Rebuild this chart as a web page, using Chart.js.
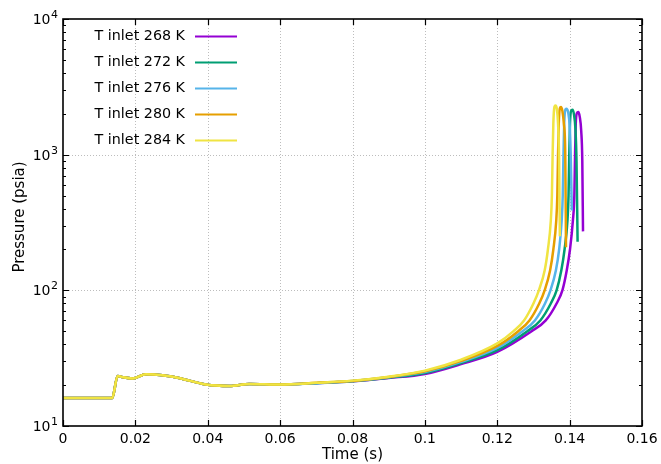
<!DOCTYPE html>
<html>
<head>
<meta charset="utf-8">
<script src="https://cdn.jsdelivr.net/npm/chart.js@4/dist/chart.umd.min.js"></script>
<style>
  html, body { margin: 0; padding: 0; background: #fff; }
  #wrap { width: 661px; height: 464px; }
</style>
</head>
<body>
<div id="wrap"><canvas id="c" width="661" height="464"></canvas></div>
<script>
// Inlet temperature cases
const seriesLabels = ['T inlet 268 K', 'T inlet 272 K', 'T inlet 276 K', 'T inlet 280 K', 'T inlet 284 K'];

// Time (s) and pressure (psia) for each case
const time268 = [0, 0.0136, 0.0151, 0.0165, 0.0192, 0.0229, 0.0275, 0.032, 0.0395, 0.046, 0.0515, 0.06, 0.07, 0.08,
  0.09, 0.1, 0.11, 0.12, 0.1295, 0.1334, 0.1364, 0.138, 0.1392, 0.1401, 0.1409, 0.1413, 0.1415, 0.1417, 0.142,
  0.1424, 0.1428, 0.1432, 0.1435, 0.1437];
const p268 = [16.1, 16.1, 23.4, 22.9, 22.4, 24.1, 23.7, 22.6, 20.2, 19.7, 20.4, 20.2, 20.7, 21.4,
  22.6, 24.2, 28.6, 35.2, 50, 60, 80, 100, 140, 200, 326, 500, 1000, 1700, 2020,
  2060, 1900, 1500, 900, 272];

const time272 = [0, 0.0136, 0.0151, 0.0165, 0.0192, 0.0229, 0.0275, 0.032, 0.0395, 0.046, 0.0515, 0.06, 0.07, 0.08,
  0.09, 0.1, 0.11, 0.12, 0.1283, 0.1319, 0.1348, 0.1364, 0.1377, 0.1386, 0.1394, 0.1397, 0.1399, 0.1401, 0.1404,
  0.1408, 0.1412, 0.1416, 0.1419, 0.1422];
const p272 = [16.1, 16.1, 23.4, 22.9, 22.4, 24.1, 23.7, 22.6, 20.2, 19.7, 20.4, 20.2, 20.7, 21.4,
  22.7, 24.6, 29.1, 36.2, 50, 60, 80, 100, 140, 200, 326, 500, 1000, 1700, 2100,
  2140, 1980, 1550, 900, 228];

const time276 = [0, 0.0136, 0.0151, 0.0165, 0.0192, 0.0229, 0.0275, 0.032, 0.0395, 0.046, 0.0515, 0.06, 0.07, 0.08,
  0.09, 0.1, 0.11, 0.12, 0.127, 0.1304, 0.1332, 0.1347, 0.1362, 0.1371, 0.1378, 0.1381, 0.1383, 0.1385, 0.1388,
  0.1391, 0.1396, 0.14, 0.1403, 0.1406];
const p276 = [16.1, 16.1, 23.4, 22.9, 22.4, 24.1, 23.7, 22.6, 20.2, 19.7, 20.4, 20.2, 20.7, 21.5,
  22.9, 25.0, 29.7, 37.6, 50, 60, 80, 100, 140, 200, 326, 500, 1000, 1700, 2140,
  2180, 2050, 1650, 1000, 388];

const time280 = [0, 0.0136, 0.0151, 0.0165, 0.0192, 0.0229, 0.0275, 0.032, 0.0395, 0.046, 0.0515, 0.06, 0.07, 0.08,
  0.09, 0.1, 0.11, 0.12, 0.1258, 0.1289, 0.1316, 0.1331, 0.1346, 0.1355, 0.1363, 0.1366, 0.1368, 0.137, 0.1373,
  0.1376, 0.138, 0.1384, 0.1388, 0.139];
const p280 = [16.1, 16.1, 23.4, 22.9, 22.4, 24.1, 23.7, 22.6, 20.2, 19.7, 20.4, 20.2, 20.8, 21.5,
  23.0, 25.3, 30.2, 38.9, 50, 60, 80, 100, 140, 200, 326, 500, 1000, 1700, 2200,
  2250, 2100, 1700, 1000, 208];

const time284 = [0, 0.0136, 0.0151, 0.0165, 0.0192, 0.0229, 0.0275, 0.032, 0.0395, 0.046, 0.0515, 0.06, 0.07, 0.08,
  0.09, 0.1, 0.11, 0.12, 0.1245, 0.1274, 0.13, 0.1315, 0.1331, 0.134, 0.1348, 0.1351, 0.1353, 0.1355, 0.1358,
  0.1361, 0.1365, 0.1368, 0.1371, 0.1373];
const p284 = [16.1, 16.1, 23.4, 22.9, 22.4, 24.1, 23.7, 22.6, 20.2, 19.7, 20.4, 20.2, 20.8, 21.6,
  23.1, 25.6, 30.8, 40.6, 50, 60, 80, 100, 140, 200, 326, 500, 1000, 1700, 2250,
  2300, 2150, 1700, 900, 250];

// Axis ticks
const xTicks = [0, 0.02, 0.04, 0.06, 0.08, 0.1, 0.12, 0.14, 0.16];
const xTickLabels = ['0', '0.02', '0.04', '0.06', '0.08', '0.1', '0.12', '0.14', '0.16'];
const yTicks = [10, 100, 1000, 10000];
const yTickExponents = ['1', '2', '3', '4'];

const lineColors = ['#9400d3', '#009e73', '#56b4e9', '#e69f00', '#f0e442'];

const seriesTimes = [time268, time272, time276, time280, time284];
const seriesPressures = [p268, p272, p276, p280, p284];

const FONT = '"DejaVu Sans", "Liberation Sans", sans-serif';

// Frame, inward ticks, dotted grid, log labels, axis titles and key
const framePlugin = {
  id: 'frame',
  beforeDatasetsDraw(chart) {
    const { ctx, chartArea: a, scales: { x, y } } = chart;
    ctx.save();
    ctx.strokeStyle = '#bdbdbd';
    ctx.lineWidth = 1;
    ctx.setLineDash([1, 2]);
    xTicks.forEach(v => {
      if (v <= x.min || v >= x.max) return;
      const px = Math.round(x.getPixelForValue(v)) + 0.5;
      ctx.beginPath(); ctx.moveTo(px, a.top); ctx.lineTo(px, a.bottom); ctx.stroke();
    });
    yTicks.forEach(v => {
      if (v <= y.min || v >= y.max) return;
      const py = Math.round(y.getPixelForValue(v)) + 0.5;
      ctx.beginPath(); ctx.moveTo(a.left, py); ctx.lineTo(a.right, py); ctx.stroke();
    });
    ctx.restore();
  },
  afterDatasetsDraw(chart) {
    const { ctx, chartArea: a, scales: { x, y } } = chart;
    ctx.save();
    ctx.strokeStyle = '#000';
    ctx.lineWidth = 1.2;
    // x ticks, bottom and top
    xTicks.forEach(v => {
      const px = Math.round(x.getPixelForValue(v)) + 0.5;
      ctx.beginPath();
      ctx.moveTo(px, a.bottom); ctx.lineTo(px, a.bottom - 6);
      ctx.moveTo(px, a.top); ctx.lineTo(px, a.top + 6);
      ctx.stroke();
    });
    // y ticks, major and minor, left and right
    for (let d = 0; d < yTicks.length; d++) {
      const base = yTicks[d];
      for (let m = 1; m <= 9; m++) {
        const v = base * m;
        if (v > y.max) break;
        const len = m === 1 ? 6 : 3;
        const py = Math.round(y.getPixelForValue(v)) + 0.5;
        ctx.beginPath();
        ctx.moveTo(a.left, py); ctx.lineTo(a.left + len, py);
        ctx.moveTo(a.right, py); ctx.lineTo(a.right - len, py);
        ctx.stroke();
      }
    }
    // frame
    ctx.lineWidth = 1.6;
    ctx.strokeRect(a.left, a.top, a.right - a.left, a.bottom - a.top);

    // y tick labels: 10 with superscript exponent
    ctx.fillStyle = '#000';
    ctx.textBaseline = 'alphabetic';
    yTicks.forEach((v, i) => {
      const py = y.getPixelForValue(v);
      ctx.font = '11px ' + FONT;
      const ew = ctx.measureText(yTickExponents[i]).width;
      const right = a.left - 5;
      ctx.textAlign = 'right';
      ctx.fillText(yTickExponents[i], right, py - 1);
      ctx.font = '14px ' + FONT;
      ctx.fillText('10', right - ew - 0.5, py + 5);
    });

    // axis titles
    ctx.font = '15px ' + FONT;
    ctx.textAlign = 'center';
    ctx.textBaseline = 'alphabetic';
    ctx.fillText('Time (s)', (a.left + a.right) / 2, 459);
    ctx.save();
    ctx.translate(24, 217);
    ctx.rotate(-Math.PI / 2);
    ctx.fillText('Pressure (psia)', 0, 0);
    ctx.restore();

    // key
    ctx.font = '14.3px ' + FONT;
    ctx.textAlign = 'right';
    ctx.textBaseline = 'middle';
    chart.data.datasets.forEach((ds, i) => {
      const ry = 36 + 26 * i;
      ctx.fillStyle = '#000';
      ctx.fillText(ds.label, 185, ry + 0.5);
      ctx.strokeStyle = ds.borderColor;
      ctx.lineWidth = 2;
      ctx.beginPath(); ctx.moveTo(195, ry + 0.5); ctx.lineTo(237, ry + 0.5); ctx.stroke();
    });
    ctx.restore();
  }
};

const datasets = seriesLabels.map((label, i) => ({
  label,
  data: seriesTimes[i].map((t, k) => ({ x: t, y: seriesPressures[i][k] })),
  borderColor: lineColors[i],
  backgroundColor: lineColors[i],
  borderWidth: 2.5,
  pointRadius: 0,
  fill: false,
  cubicInterpolationMode: 'monotone',
  order: seriesLabels.length - 1 - i
}));

new Chart(document.getElementById('c'), {
  type: 'line',
  data: { datasets },
  options: {
    responsive: false,
    devicePixelRatio: 1,
    animation: false,
    layout: { padding: { top: 19, right: 19, left: 0, bottom: 0 } },
    plugins: { legend: { display: false }, tooltip: { enabled: false } },
    scales: {
      x: {
        type: 'linear',
        min: 0, max: 0.16,
        afterBuildTicks: s => { s.ticks = xTicks.map(v => ({ value: v })); },
        ticks: {
          callback: (v, idx) => xTickLabels[idx],
          font: { size: 14, family: FONT },
          color: '#000',
          padding: 5,
          maxRotation: 0,
          autoSkip: false
        },
        grid: { display: false, drawTicks: false },
        border: { display: false },
        afterFit: s => { s.height = 38; s.paddingLeft = 0; s.paddingRight = 0; }
      },
      y: {
        type: 'logarithmic',
        min: 10, max: 10000,
        ticks: { display: false },
        grid: { display: false, drawTicks: false },
        border: { display: false },
        afterFit: s => { s.width = 63; }
      }
    }
  },
  plugins: [framePlugin]
});
</script>
</body>
</html>
